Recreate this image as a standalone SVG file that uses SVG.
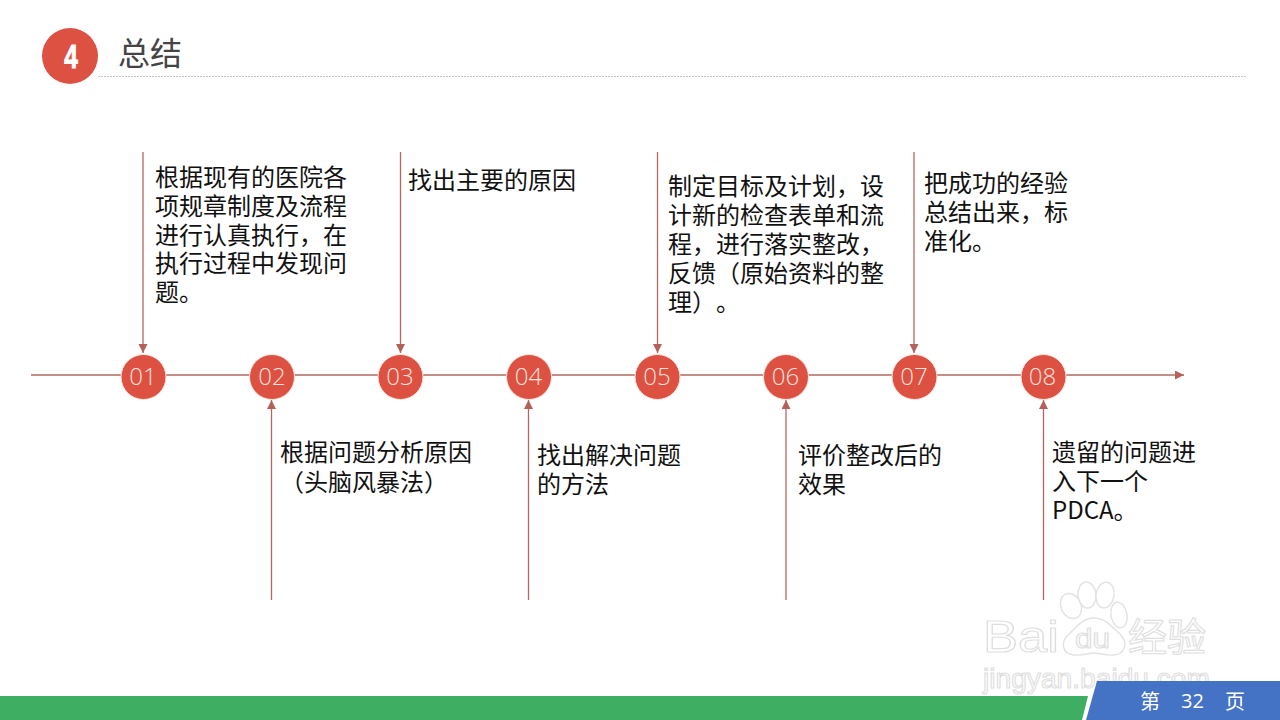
<svg xmlns="http://www.w3.org/2000/svg" width="1280" height="720" viewBox="0 0 1280 720">
<style>
.t{font-family:"Noto Sans CJK SC","Noto Sans",sans-serif;font-size:24px;fill:#111;font-feature-settings:"chws" 0,"palt" 0,"halt" 0;text-spacing-trim:space-all}
.n{font-family:"Open Sans","Noto Sans",sans-serif;font-weight:300;font-size:24px;fill:#f6e3dc;text-anchor:middle}
.c{fill:#dd5142;stroke:#fbe6de;stroke-width:1}
.l{stroke:#b5675f;stroke-width:1.3;fill:none}
.w{fill:#fff;stroke:#e2e2e2;stroke-width:1.4}
.wt{font-family:"Liberation Sans",sans-serif;fill:#fff;stroke:#dfdfdf;stroke-width:1.2}
</style>
<defs>
<marker id="a" markerUnits="userSpaceOnUse" markerWidth="10" markerHeight="10" refX="9" refY="4.500" orient="auto"><path d="M0 0L9 4.500L0 9Z" fill="#b5605a"/></marker>
</defs>
<rect width="1280" height="720" fill="#fff"/>
<g id="header">
<line x1="98" y1="76.500" x2="1247" y2="76.500" stroke="#c4c4c4" stroke-width="1" stroke-dasharray="2 1"/>
<circle cx="70" cy="56" r="28" fill="#dd5142"/>
<text x="0" y="0" text-anchor="middle" transform="translate(71 68) scale(0.72 1)" style="font-family:'Liberation Sans',sans-serif;font-weight:700;font-size:34px;fill:#fff;stroke:#fff;stroke-width:1">4</text>
<text x="118" y="65" style="font-family:'Noto Sans CJK SC',sans-serif;font-size:32px;fill:#444">总结</text>
</g>
<g id="connectors">
<line class="l" x1="31" y1="375" x2="1184" y2="375" marker-end="url(#a)"/>
<line class="l" x1="143" y1="152" x2="143" y2="353" marker-end="url(#a)"/>
<line class="l" x1="400.500" y1="152" x2="400.500" y2="353" marker-end="url(#a)"/>
<line class="l" x1="657.500" y1="152" x2="657.500" y2="353" marker-end="url(#a)"/>
<line class="l" x1="914" y1="152" x2="914" y2="353" marker-end="url(#a)"/>
<line class="l" x1="271.500" y1="600" x2="271.500" y2="400" marker-end="url(#a)"/>
<line class="l" x1="528.500" y1="600" x2="528.500" y2="400" marker-end="url(#a)"/>
<line class="l" x1="786" y1="600" x2="786" y2="400" marker-end="url(#a)"/>
<line class="l" x1="1043.500" y1="600" x2="1043.500" y2="400" marker-end="url(#a)"/>
</g>
<g id="n01"><circle class="c" cx="143.500" cy="377" r="22.500"/><text class="n" x="143" y="385">01</text></g>
<g id="n02"><circle class="c" cx="272" cy="377" r="22.500"/><text class="n" x="272" y="385">02</text></g>
<g id="n03"><circle class="c" cx="400.500" cy="377" r="22.500"/><text class="n" x="400" y="385">03</text></g>
<g id="n04"><circle class="c" cx="529" cy="377" r="22.500"/><text class="n" x="528.500" y="385">04</text></g>
<g id="n05"><circle class="c" cx="657.500" cy="377" r="22.500"/><text class="n" x="657" y="385">05</text></g>
<g id="n06"><circle class="c" cx="786" cy="377" r="22.500"/><text class="n" x="785.500" y="385">06</text></g>
<g id="n07"><circle class="c" cx="914.500" cy="377" r="22.500"/><text class="n" x="914" y="385">07</text></g>
<g id="n08"><circle class="c" cx="1043.500" cy="377" r="22.500"/><text class="n" x="1042.500" y="385">08</text></g>
<g id="text01" class="t"><text x="155" y="186">根据现有的医院各</text><text x="155" y="215">项规章制度及流程</text><text x="155" y="244">进行认真执行，在</text><text x="155" y="272">执行过程中发现问</text><text x="155" y="301">题。</text></g>
<g id="text02" class="t"><text x="280" y="461">根据问题分析原因</text><text x="280" y="491">（头脑风暴法）</text></g>
<g id="text03" class="t"><text x="408" y="189">找出主要的原因</text></g>
<g id="text04" class="t"><text x="537" y="464">找出解决问题</text><text x="537" y="493">的方法</text></g>
<g id="text05" class="t"><text x="668" y="195">制定目标及计划，设</text><text x="668" y="224">计新的检查表单和流</text><text x="668" y="253">程，进行落实整改，</text><text x="668" y="282">反馈（原始资料的整</text><text x="668" y="311">理）。</text></g>
<g id="text06" class="t"><text x="798" y="464">评价整改后的</text><text x="798" y="493">效果</text></g>
<g id="text07" class="t"><text x="924" y="192">把成功的经验</text><text x="924" y="221">总结出来，标</text><text x="924" y="250">准化。</text></g>
<g id="text08" class="t"><text x="1052" y="461">遗留的问题进</text><text x="1052" y="490">入下一个</text><text x="1052" y="519">PDCA。</text></g>
<g id="watermark">
<ellipse class="w" cx="1071" cy="606" rx="10" ry="13" transform="rotate(-25 1071 606)"/>
<ellipse class="w" cx="1087" cy="595" rx="9" ry="13" transform="rotate(-5 1087 595)"/>
<ellipse class="w" cx="1105" cy="595" rx="9" ry="13" transform="rotate(10 1105 595)"/>
<ellipse class="w" cx="1119" cy="615" rx="8" ry="13" transform="rotate(-10 1119 615)"/>
<path class="w" d="M1094 618C1082 618 1076 628 1069 634C1060 642 1062 654 1074 655C1082 656 1088 653 1094 653C1100 653 1106 656 1114 655C1126 654 1128 642 1120 634C1113 628 1106 618 1094 618Z"/>
<text class="wt" x="983" y="652" textLength="76" lengthAdjust="spacingAndGlyphs" style="font-size:44px">Bai</text>
<text class="wt" x="1075" y="648" textLength="35" lengthAdjust="spacingAndGlyphs" style="font-size:27px">du</text>
<text class="wt" x="1128" y="651" style="font-family:'Noto Sans CJK SC',sans-serif;font-size:39px">经验</text>
<text class="wt" x="983" y="688" textLength="227" lengthAdjust="spacingAndGlyphs" style="font-size:28px">jingyan.baidu.com</text>
</g>
<g id="footer">
<path d="M0 696H1088L1082 720H0Z" fill="#3dae62"/>
<path d="M1097 681H1280V720H1086Z" fill="#4472c4"/>
<text x="1140" y="709" style="font-family:'Noto Sans CJK SC',sans-serif;font-size:20px;fill:#fff">第</text>
<text x="1181" y="708" style="font-family:'Open Sans',sans-serif;font-size:20px;fill:#fff">32</text>
<text x="1225" y="709" style="font-family:'Noto Sans CJK SC',sans-serif;font-size:20px;fill:#fff">页</text>
</g>
</svg>
